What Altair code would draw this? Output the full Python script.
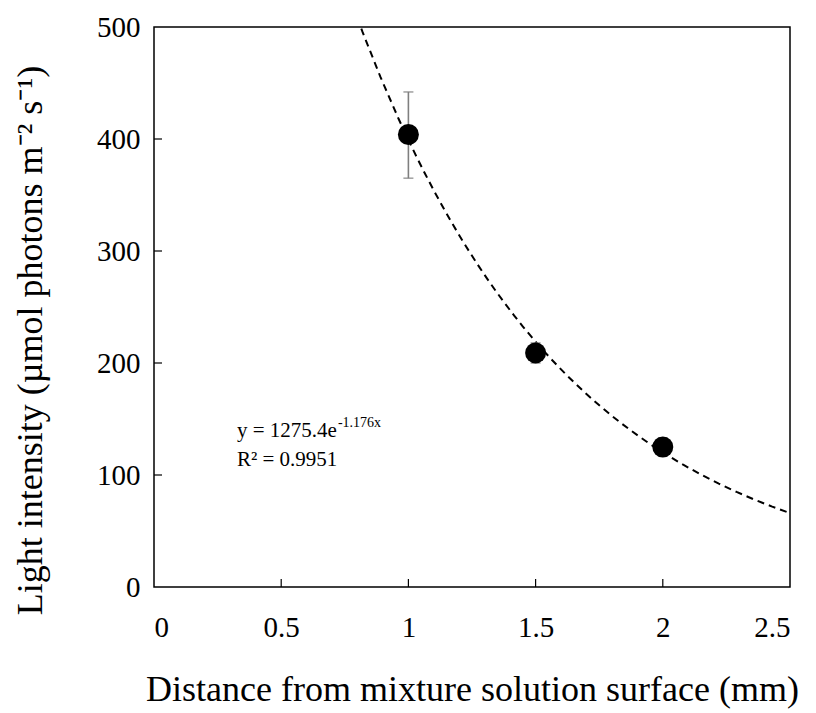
import altair as alt
import pandas as pd

# data
distance = [1.0, 1.5, 2.0]
intensity = [404, 209, 125]
err_low = [365, 200, 117]
err_high = [442, 218, 133]

x_ticks = [0, 0.5, 1, 1.5, 2, 2.5]
y_ticks = [0, 100, 200, 300, 400, 500]
x_inner_ticks = [0.5, 1, 1.5, 2]
y_inner_ticks = [100, 200, 300, 400]

eq_text = ["y = 1275.4e"]
eq_sup = ["-1.176x"]
r2_text = ["R² = 0.9951"]
eq_pos = [0.326, 139]
r2_pos = [0.326, 113]

FONT = "Liberation Serif"
W, H = 636, 560

df = pd.DataFrame({"x": distance, "y": intensity, "lo": err_low, "hi": err_high})

xs = alt.Scale(domain=[0, 2.5], nice=False, zero=False)
ys = alt.Scale(domain=[0, 500], nice=False)

common_axis = dict(
    domain=False,
    ticks=False,
    grid=False,
    labelFont=FONT,
    titleFont=FONT,
    labelFontSize=29,
    titleFontSize=36,
    titleFontWeight="normal",
    labelColor="black",
    titleColor="black",
)

X_AX = alt.Axis(
    values=x_ticks,
    format="~g",
    title="Distance from mixture solution surface (mm)",
    labelPadding=26,
    titlePadding=30,
    **common_axis,
)
Y_AX = alt.Axis(
    values=y_ticks,
    title="Light intensity (µmol photons m⁻² s⁻¹)",
    labelPadding=14,
    titlePadding=47,
    titleY=313,
    **common_axis,
)


def X(field):
    return alt.X(field, scale=xs, axis=X_AX)


def Y(field):
    return alt.Y(field, scale=ys, axis=Y_AX)


base = alt.Chart(df)

fit = (
    base.transform_regression("x", "y", method="exp", extent=[0.75, 2.5])
    .mark_line(color="black", strokeDash=[7, 5], strokeWidth=2, clip=True)
    .encode(x=X("x:Q"), y=Y("y:Q"))
)

err_rule = base.mark_rule(color="#7f7f7f", strokeWidth=1.6).encode(
    x=X("x:Q"), y=Y("lo:Q"), y2="hi:Q"
)
cap_lo = base.mark_tick(color="#7f7f7f", orient="horizontal", size=10, thickness=1.6).encode(
    x=X("x:Q"), y=Y("lo:Q")
)
cap_hi = base.mark_tick(color="#7f7f7f", orient="horizontal", size=10, thickness=1.6).encode(
    x=X("x:Q"), y=Y("hi:Q")
)

points = base.mark_circle(color="black", opacity=1, size=440).encode(
    x=X("x:Q"), y=Y("y:Q")
)

ytk = alt.Chart(pd.DataFrame({"v": y_inner_ticks})).mark_rule(
    color="black", strokeWidth=1.2
).encode(y=Y("v:Q"), x=alt.value(0), x2=alt.value(8))

xtk = alt.Chart(pd.DataFrame({"v": x_inner_ticks})).mark_rule(
    color="black", strokeWidth=1.2
).encode(x=X("v:Q"), y=alt.value(H), y2=alt.value(H - 8))

ann_df = pd.DataFrame(
    {
        "x": [eq_pos[0], r2_pos[0]],
        "y": [eq_pos[1], r2_pos[1]],
        "t": [eq_text[0], r2_text[0]],
    }
)
ann = alt.Chart(ann_df).mark_text(
    font=FONT, fontSize=21, align="left", baseline="middle", color="black"
).encode(x=X("x:Q"), y=Y("y:Q"), text="t:N")

sup_df = pd.DataFrame({"x": [eq_pos[0]], "y": [eq_pos[1]], "t": eq_sup})
sup = alt.Chart(sup_df).mark_text(
    font=FONT, fontSize=14, align="left", baseline="middle", color="black", dx=101, dy=-8
).encode(x=X("x:Q"), y=Y("y:Q"), text="t:N")

chart = (
    alt.layer(fit, err_rule, cap_lo, cap_hi, points, ytk, xtk, ann, sup)
    .properties(
        width=W,
        height=H,
        autosize=alt.AutoSizeParams(type="none"),
        padding={"left": 146, "top": 19, "right": 10, "bottom": 126},
    )
    .configure_view(stroke="black", strokeWidth=1.5)
)

chart.save("out.html", embed_options={"renderer": "svg", "actions": False})
